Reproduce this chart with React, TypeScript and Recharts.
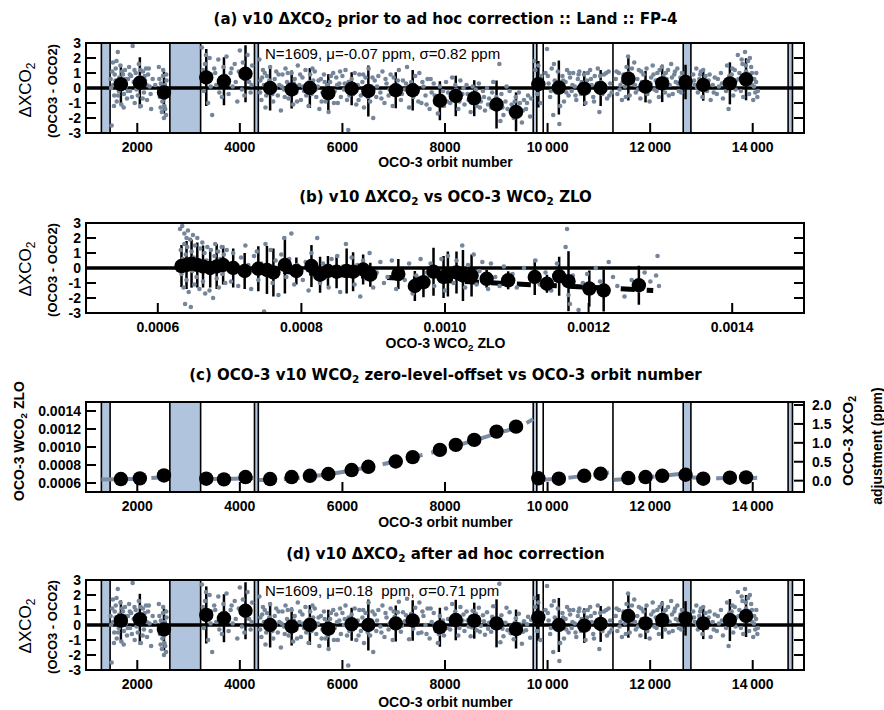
import React from "react";
import {
  ComposedChart,
  Scatter,
  Line,
  XAxis,
  YAxis,
  ReferenceArea,
  ReferenceLine,
  ErrorBar,
} from "recharts";

// ---- axis ticks ----
const orbitTicks = [2000, 4000, 6000, 8000, 10000, 12000, 14000];
const deltaTicks = [-3, -2, -1, 0, 1, 2, 3];
const zloTicks = [0.0006, 0.0008, 0.001, 0.0012, 0.0014];
const adjTicks = [0, 0.5, 1, 1.5, 2];

// ---- instrument gaps (orbit ranges) and extra markers ----
const gapBands = [
  [1300, 1470],
  [2635, 3235],
  [4285, 4360],
  [9720, 9790],
  [12645, 12795],
  [14690, 14775],
];
const extraLines = [9915, 11275];

// ---- binned means: [orbit, dXCO2, 1-sigma] ----
const meansA = [
  [1680, 0.25, 1.35], [2050, 0.35, 1.7], [2520, -0.3, 1.4], [3345, 0.7, 1.9],
  [3690, 0.45, 1.6], [4110, 0.95, 1.9], [4590, 0.0, 1.5], [5010, -0.1, 1.27],
  [5365, 0.0, 1.33], [5725, -0.35, 1.27], [6180, -0.05, 1.1], [6505, -0.2, 1.7],
  [7040, -0.15, 1.2], [7370, -0.15, 1.35], [7900, -0.85, 1.3], [8210, -0.53, 1.35],
  [8570, -0.68, 1.2], [9005, -1.1, 1.6], [9385, -1.59, 1.3], [9820, 0.25, 1.55],
  [10220, 0.03, 1.8], [10715, -0.04, 1.15], [11035, 0.0, 1.2], [11575, 0.62, 1.45],
  [11910, 0.09, 1.05], [12235, 0.31, 1.25], [12690, 0.4, 1.15], [13035, 0.2, 1.05],
  [13555, 0.31, 1.4], [13870, 0.58, 1.4],
];
const meansD = [
  [1680, 0.29, 1.35], [2050, 0.38, 1.7], [2520, -0.29, 1.4], [3345, 0.67, 1.9],
  [3690, 0.45, 1.6], [4110, 0.95, 1.9], [4590, 0.0, 1.5], [5010, -0.1, 1.27],
  [5365, 0.0, 1.33], [5725, -0.25, 1.27], [6180, 0.05, 1.1], [6505, 0.0, 1.7],
  [7040, 0.1, 1.2], [7370, 0.3, 1.35], [7900, -0.15, 1.3], [8210, 0.33, 1.35],
  [8570, 0.29, 1.2], [9005, 0.11, 1.6], [9385, -0.27, 1.3], [9820, 0.51, 1.55],
  [10220, 0.0, 1.8], [10715, -0.04, 1.15], [11035, 0.07, 1.2], [11575, 0.6, 1.45],
  [11910, 0.11, 1.05], [12235, 0.33, 1.25], [12690, 0.44, 1.15], [13035, 0.11, 1.05],
  [13555, 0.33, 1.4], [13870, 0.6, 1.4],
];

// ---- individual soundings: [orbit, dXCO2] ----
const dotsEarly = [
  [1480, 0.6], [1500, -2.5], [1510, 1.1], [1530, 0.2], [1550, -0.5], [1560, 0.9], [1580, 1.3],
  [1600, -0.9], [1610, 0.4], [1620, 2.4], [1640, -0.2], [1650, 0.7], [1670, 1.5], [1690, -1.1],
  [1700, 0.3], [1720, 0.9], [1740, -0.4], [1760, 1.2], [1780, 0.1], [1800, -0.7], [1820, 0.6],
  [1840, 1.4], [1860, -0.2], [1880, 0.8], [1910, 2.8], [1930, 0.4], [1950, -1.0], [1970, 1.0],
  [1990, 0.2], [2010, -0.5], [2030, 1.6], [2050, 0.7], [2070, -1.2], [2090, 0.3], [2110, 1.1],
  [2130, -0.3], [2150, 0.5], [2170, 1.3], [2190, -0.8], [2210, 0.9], [2240, 0.1], [2270, -1.4],
  [2300, 0.6], [2350, 0.2], [2420, 1.4], [2440, -0.6], [2460, 0.3], [2480, -1.6], [2490, -0.9],
  [2500, 0.8], [2510, -0.3], [2520, -2.0], [2530, -1.2], [2540, 0.2], [2550, -0.5], [2560, -1.8],
  [2570, 0.5],
  [1490, 0.0], [1525, 1.7], [1545, -1.2], [1575, 0.5], [1595, 1.8], [1625, -0.5], [1665, 0.1],
  [1705, 1.1], [1735, -1.3], [1775, 0.6], [1815, -0.2], [1855, 0.9], [1895, -0.6], [1945, 1.2],
  [1985, -0.1], [2025, 0.4], [2065, 1.2], [2105, -0.7], [2145, 0.8], [2185, 0.2], [2225, 1.3],
  [2260, -0.4], [2430, 0.6], [2455, -1.3], [2475, 0.1], [2505, 1.2], [2525, -0.7], [2545, -1.4],
  [2565, 0.9],
  [3260, 2.7], [3280, 1.2], [3300, -0.2], [3320, 1.6], [3350, 0.4], [3380, -1.0], [3410, 2.0],
  [3440, 0.9], [3460, -1.8], [3500, 1.3], [3540, 0.2], [3580, 1.9], [3620, 0.6], [3650, -0.6],
  [3680, 1.4], [3700, 0.3], [3740, 2.1], [3780, -0.4], [3820, 1.0], [3860, 0.1], [3900, 1.6],
  [3950, -0.9], [4000, 2.5], [4030, 0.8], [4060, 1.7], [4090, -0.5], [4120, 1.2], [4150, 2.2],
  [4180, 0.4], [4210, -0.3], [4240, 1.5],
  [3290, 0.5], [3340, 2.2], [3430, 0.1], [3520, 1.0], [3600, -0.3], [3720, 0.8], [3840, 1.3],
  [3920, 0.4], [3980, 1.1], [4040, -0.1], [4100, 0.6], [4160, 1.0], [4230, 0.2],
];
const dotsMidEarly = [
  [4380, 1.9], [4400, 0.5], [4420, -0.8], [4450, 1.2], [4470, 0.2], [4500, -1.3], [4530, 0.8],
  [4560, -0.2], [4590, 1.4], [4620, 0.3], [4650, -0.9], [4680, 0.6], [4710, 1.1], [4740, -0.5],
  [4770, 0.2], [4800, -1.5], [4830, 0.9], [4860, -0.1], [4890, 1.3], [4920, 0.4], [4950, -0.7],
  [4980, 0.1], [5010, 1.0], [5040, -1.1], [5070, 0.6], [5100, -0.3], [5130, 1.5], [5160, 0.2],
  [5190, -0.8], [5220, 0.7], [5250, -0.2], [5280, 1.2], [5310, 0.3], [5340, -1.2], [5370, 0.9],
  [5400, -0.4], [5430, 0.5], [5460, 1.1], [5490, -0.6], [5520, 0.1], [5550, -1.4], [5580, 0.6],
  [5610, -0.3], [5640, 0.9], [5670, -0.9], [5700, 0.2], [5730, -1.6], [5760, 0.4], [5790, -0.5],
  [5820, 1.0], [5850, -0.2], [5880, 0.7], [5910, -1.0], [5940, 0.3], [5970, -0.6], [6000, 0.8],
  [4395, -0.3], [4435, 0.7], [4485, 1.0], [4515, -0.5], [4575, 0.5], [4635, -0.4], [4695, 0.0],
  [4755, 0.9], [4815, 0.1], [4875, -0.6], [4935, 1.0], [4995, -0.4], [5055, 0.3], [5115, -0.9],
  [5175, 0.9], [5235, 0.1], [5295, -0.5], [5355, 0.4], [5415, 1.3], [5475, -0.1], [5535, 0.5],
  [5595, -0.9], [5655, 0.4], [5715, -0.7], [5775, 0.8], [5835, -1.0], [5895, 0.2], [5955, 1.1],
];
const dotsMidA = [
  [6030, -0.1], [6060, 1.2], [6090, -0.8], [6114, -2.8], [6120, 0.4], [6180, 0.6], [6210, -0.4],
  [6240, 1.0], [6270, -1.1], [6300, 0.2], [6330, 0.9], [6360, -0.5], [6390, 0.4], [6420, -1.3],
  [6450, 0.7], [6480, -0.2], [6510, 1.3], [6540, -0.9], [6570, 0.1], [6600, -2.0], [6630, 0.5],
  [6660, -0.6], [6700, 0.8], [6740, -0.3], [6780, 1.1], [6820, -1.0], [6860, 0.3], [6900, -0.5],
  [6940, 0.9], [6980, -1.2], [7020, 0.2], [7060, -0.4], [7100, 1.2], [7140, -0.8], [7180, 0.5],
  [7220, -0.1], [7260, 1.4], [7300, -1.3], [7340, 0.4], [7380, -0.6], [7420, 0.8], [7460, -0.2],
  [7500, 1.0], [7540, -1.0], [7580, 0.1], [7620, -0.5], [7660, 0.6], [7700, -1.4], [7740, -0.3],
  [7780, 0.3], [7820, -0.9], [7860, -1.7], [7900, 0.1], [7940, -0.6], [7980, -1.2], [8020, 0.4],
  [8060, -0.3], [8100, -1.0], [8140, 0.7], [8180, -0.7], [8220, -0.1], [8260, -1.4], [8300, 0.5],
  [8340, -0.4], [8380, -1.1], [8420, 0.2], [8460, -0.8], [8500, -1.6], [8540, 0.1], [8580, -0.5],
  [8620, -1.2], [8660, 0.3], [8700, -0.9], [8740, -0.2], [8780, -1.5], [8820, 0.0], [8860, -0.7],
  [8900, -1.3], [8940, 0.4], [8980, -1.0], [9060, 1.6], [9080, -2.2], [9100, -0.4], [9140, -1.8],
  [9180, -0.9], [9220, -1.4], [9260, -0.2], [9300, -1.1], [9340, -2.0], [9380, -0.6], [9420, -1.6],
  [9460, -1.0], [9500, -2.3], [9540, -0.8], [9580, -1.4], [9620, -0.5], [9660, -1.9],
  [6045, 0.3], [6135, -0.5], [6225, 0.2], [6315, -0.8], [6405, 0.9], [6495, -0.6], [6585, 0.7],
  [6675, 0.1], [6760, -0.7], [6840, 0.6], [6920, -0.1], [7000, 0.7], [7080, 0.5], [7160, -0.4],
  [7240, 0.3], [7320, -0.2], [7400, 0.2], [7480, -0.9], [7560, 0.4], [7640, -1.1], [7720, 0.6],
  [7800, -0.5], [7880, -1.1], [7960, -0.2], [8040, -0.9], [8120, -0.4], [8200, 0.2], [8280, -0.9],
  [8360, 0.0], [8440, -0.4], [8520, -1.0], [8600, -0.1], [8680, -1.3], [8760, -0.6], [8840, -1.1],
  [8920, -0.3], [9000, -0.6], [9120, -1.3], [9200, 0.1], [9280, -1.6], [9360, -0.9], [9440, -0.3],
  [9520, -1.5], [9600, -1.0], [9680, -0.7],
];
const dotsMidD = [
  [6030, 0.0], [6060, 1.3], [6090, -0.7], [6114, -2.7], [6120, 0.5], [6180, 0.7], [6210, -0.3],
  [6240, 1.1], [6270, -1.0], [6300, 0.3], [6330, 1.0], [6360, -0.4], [6390, 0.5], [6420, -1.2],
  [6450, 0.8], [6480, -0.1], [6510, 1.5], [6540, -0.7], [6570, 0.3], [6600, -1.8], [6630, 0.7],
  [6660, -0.4], [6700, 1.0], [6740, -0.1], [6780, 1.3], [6820, -0.8], [6860, 0.5], [6900, -0.3],
  [6940, 1.1], [6980, -1.0], [7020, 0.55], [7060, -0.05], [7100, 1.55], [7140, -0.45], [7180, 0.85],
  [7220, 0.25], [7260, 1.75], [7300, -0.95], [7340, 0.75], [7380, -0.25], [7420, 1.15], [7460, 0.15],
  [7500, 1.5], [7540, -0.5], [7580, 0.6], [7620, 0.0], [7660, 1.1], [7700, -0.9], [7740, 0.2],
  [7780, 0.8], [7820, -0.4], [7860, -1.2], [7900, 0.6], [7940, -0.1], [7980, -0.7], [8020, 1.1],
  [8060, 0.4], [8100, -0.3], [8140, 1.4], [8180, 0.0], [8220, 0.6], [8260, -0.7], [8300, 1.2],
  [8340, 0.3], [8380, -0.4], [8420, 0.9], [8460, -0.1], [8500, -0.75], [8540, 0.95], [8580, 0.35],
  [8620, -0.35], [8660, 1.15], [8700, -0.05], [8740, 0.65], [8780, -0.65], [8820, 0.85], [8860, 0.15],
  [8900, -0.45], [8940, 1.25], [8980, -0.15], [9060, 2.75], [9080, -1.15], [9100, 0.65], [9140, -0.75],
  [9180, 0.15], [9220, -0.35], [9260, 0.85], [9300, -0.05], [9340, -0.95], [9380, 0.45], [9420, -0.55],
  [9460, 0.05], [9500, -1.25], [9540, 0.25], [9580, -0.35], [9620, 0.55], [9660, -0.85],
  [6045, 0.4], [6135, -0.4], [6225, 0.3], [6315, -0.7], [6405, 1.0], [6495, -0.5], [6585, 0.9],
  [6675, 0.3], [6760, -0.5], [6840, 0.8], [6920, 0.1], [7000, 0.9], [7080, 0.85], [7160, -0.05],
  [7240, 0.65], [7320, 0.15], [7400, 0.55], [7480, -0.55], [7560, 0.9], [7640, -0.6], [7720, 1.1],
  [7800, 0.0], [7880, -0.6], [7960, 0.3], [8040, -0.2], [8120, 0.3], [8200, 0.9], [8280, -0.2],
  [8360, 0.7], [8440, 0.3], [8520, -0.15], [8600, 0.75], [8680, -0.45], [8760, 0.25], [8840, -0.25],
  [8920, 0.55], [9000, 0.25], [9120, -0.25], [9200, 1.15], [9280, -0.55], [9360, 0.15], [9440, 0.75],
  [9520, -0.45], [9600, 0.05], [9680, 0.35],
];
const dotsLate = [
  [9740, 1.8], [9760, 1.2], [9780, 0.5], [9800, -0.4], [9820, 1.5], [9840, 0.2], [9860, -1.0],
  [9880, 0.8], [9960, 1.0], [9990, 2.6], [10020, 0.3], [10050, -0.6], [10080, 1.3], [10110, -1.8],
  [10140, 0.5], [10170, -0.3], [10200, 1.1], [10230, -2.4], [10260, 0.2], [10290, 0.8], [10320, -0.9],
  [10350, 0.4], [10380, 1.2], [10410, -0.5], [10440, 0.7], [10470, -0.2], [10500, 1.0], [10530, 0.1],
  [10560, -0.8], [10590, 0.6], [10620, 1.1], [10650, -0.4], [10680, 0.3], [10710, 0.9], [10740, -1.0],
  [10770, 0.5], [10800, -0.2], [10830, 1.2], [10860, 0.2], [10890, -0.6], [10920, 0.8], [10950, -0.1],
  [10980, 1.3], [11010, -1.6], [11040, 0.4], [11070, -0.4], [11100, 0.9], [11130, 0.0], [11160, -0.7],
  [11190, 1.1], [11220, 0.3], [11250, -0.3],
  [10005, 0.8], [10065, -0.2], [10125, 1.6], [10185, 0.1], [10245, -1.2], [10305, 0.5], [10365, -0.3],
  [10425, 1.0], [10485, 0.2], [10545, -0.5], [10605, 0.9], [10665, 0.4], [10725, -0.3], [10785, 1.0],
  [10845, 0.6], [10905, -0.9], [10965, 0.3], [11025, 0.8], [11085, -0.1], [11145, 1.0], [11205, -0.5],
  [11330, 0.6], [11360, -0.4], [11390, 1.0], [11420, 0.2], [11450, -0.8], [11480, 0.9], [11510, 0.1],
  [11540, 1.4], [11570, 2.1], [11600, -0.5], [11630, 0.8], [11660, 0.3], [11690, 1.7], [11720, -0.3],
  [11750, 0.6], [11780, 1.2], [11810, -0.7], [11840, 0.4], [11870, 0.9], [11900, -0.2], [11930, 1.3],
  [11960, 0.1], [11990, -0.9], [12020, 0.7], [12050, 1.5], [12080, -0.1], [12110, 0.5], [12140, 1.0],
  [12170, -0.6], [12200, 0.3], [12230, 1.4], [12260, 0.8], [12290, -0.3], [12320, 0.6], [12350, 1.2],
  [12380, 0.2], [12410, 1.6], [12440, -0.4], [12470, 0.9], [12500, 0.4], [12530, 1.3], [12560, -0.2],
  [12590, 0.7], [12620, 1.0],
  [11345, 1.1], [11405, -0.1], [11465, 0.4], [11525, -0.6], [11585, 1.0], [11645, 1.3], [11705, 0.2],
  [11765, -0.1], [11825, 1.1], [11885, 0.4], [11945, -0.4], [12005, 0.3], [12065, 0.9], [12125, -0.2],
  [12185, 1.2], [12245, 0.1], [12305, 1.0], [12365, -0.5], [12425, 0.7], [12485, 1.1], [12545, 0.3],
  [12605, -0.3],
  [12840, 0.9], [12870, 0.2], [12900, 1.3], [12930, -0.3], [12960, 0.6], [12990, 1.1], [13020, -0.6],
  [13050, 0.4], [13080, 0.8], [13110, -0.2], [13140, 0.5], [13180, -0.8], [13220, 0.2], [13260, 0.7],
  [13300, -0.4], [13340, 0.1], [13380, 1.0], [13420, -0.7], [13460, 0.4], [13500, 1.5], [13530, -1.4],
  [13560, 0.3], [13590, 0.9], [13620, -0.5], [13650, 1.2], [13680, 0.5], [13710, 2.2], [13740, 1.0],
  [13770, -0.2], [13800, 1.6], [13830, 0.7], [13850, 2.4], [13870, 1.1], [13890, 0.3], [13910, 1.8],
  [13930, -0.4], [13950, 0.9], [13970, 1.4], [13990, 0.2], [14010, -0.8], [14030, 0.6], [14050, -0.3],
  [14070, 1.0], [14090, -0.6],
  [12855, 0.5], [12915, 0.0], [12975, 0.9], [13035, 1.2], [13095, 0.3], [13160, 0.9], [13240, -0.3],
  [13320, 0.6], [13400, 0.3], [13480, -0.2], [13545, 0.8], [13605, 1.3], [13665, -0.1], [13725, 0.6],
  [13785, 1.9], [13815, -0.6], [13865, 1.5], [13905, 0.6], [13945, 2.0], [13985, 1.0], [14025, 0.1],
  [14065, 0.4], [14100, -0.2],
];

// ---- panel (b): [ZLO, dXCO2, 1-sigma] ----
const meansB = [
  [0.000633, 0.13, 1.4], [0.00064, 0.2, 1.6], [0.000647, 0.29, 1.6], [0.000655, 0.2, 1.5],
  [0.000663, 0.1, 1.4], [0.000673, 0.0, 1.3], [0.000682, 0.1, 1.5], [0.000691, 0.2, 1.3],
  [0.000705, 0.0, 1.3], [0.000721, -0.2, 1.2], [0.00074, -0.05, 1.5], [0.000752, -0.13, 1.6],
  [0.000761, -0.3, 1.6], [0.000777, 0.2, 1.9], [0.000793, -0.2, 0.9], [0.000814, 0.13, 1.4],
  [0.000826, -0.45, 1.2], [0.000837, -0.2, 1.0], [0.000849, -0.25, 1.1], [0.000863, -0.2, 1.5],
  [0.000872, -0.25, 1.3], [0.000886, -0.1, 1.0], [0.000896, -0.45, 0.8], [0.000935, -0.4, 1.0],
  [0.000958, -1.2, 1.0], [0.00097, -0.95, 1.0], [0.000984, -0.25, 1.6], [0.000998, -0.6, 1.4],
  [0.001004, -0.4, 1.5], [0.001016, -0.3, 1.4], [0.001025, -0.5, 1.7], [0.001037, -0.5, 1.4],
  [0.001058, -0.72, 0.6], [0.001088, -0.82, 0.6], [0.001125, -0.6, 1.2], [0.001142, -1.05, 0.6],
  [0.001159, -0.55, 1.3], [0.001172, -0.88, 2.0], [0.001201, -1.37, 1.2], [0.001221, -1.5, 1.4],
  [0.00127, -1.15, 1.3],
];
const fitB = [
  [0.00063, 0.12], [0.0007, -0.05], [0.0008, -0.3], [0.0009, -0.58], [0.001, -0.84],
  [0.0011, -1.07], [0.0012, -1.28], [0.00129, -1.5],
];
const dotsB = [
  [0.000631, 2.6], [0.000632, 1.2], [0.000633, -0.4], [0.000634, 2.8], [0.000635, 0.6], [0.000636, -1.3],
  [0.000637, 2.3], [0.000637, 1.6], [0.000638, -2.4], [0.000639, 0.9], [0.00064, 2.0], [0.00064, -0.8],
  [0.000641, 1.4], [0.000642, 2.5], [0.000643, -1.6], [0.000644, 0.3], [0.000645, 1.9], [0.000646, -2.6],
  [0.000647, 1.1], [0.000648, -0.2], [0.000649, 2.2], [0.00065, 0.7], [0.000651, -1.1], [0.000652, 1.5],
  [0.000654, -0.6], [0.000655, 2.0], [0.000656, 0.4], [0.000658, -1.4], [0.000659, 1.3], [0.00066, 0.0],
  [0.000662, 1.7], [0.000663, -0.9], [0.000665, 1.0], [0.000666, -1.7], [0.000668, 0.5], [0.000669, 1.4],
  [0.000671, -0.3], [0.000672, -1.5], [0.000674, 1.2], [0.000675, 0.2], [0.000677, -2.0], [0.000679, 0.8],
  [0.00068, 1.6], [0.000682, -0.7], [0.000684, 1.1], [0.000685, -1.3], [0.000687, 0.6], [0.000689, 1.4],
  [0.00069, -0.4], [0.000692, 0.9], [0.000694, -1.0], [0.000696, 1.2], [0.000698, 0.1], [0.000702, -0.9],
  [0.000705, 1.0], [0.000708, 0.3], [0.000712, -1.2], [0.000716, 0.7], [0.00072, -0.5], [0.000722, 1.5],
  [0.000726, 0.2], [0.00073, -1.4], [0.000734, 0.8], [0.000738, 1.1], [0.00074, -0.8], [0.000744, 0.3],
  [0.000748, -2.9], [0.00075, 1.6], [0.000753, -0.2], [0.000757, 1.2], [0.00076, -1.0], [0.000764, 0.5],
  [0.000768, -1.8], [0.000772, 0.9], [0.000776, 2.0], [0.000779, -0.6], [0.000783, 0.6], [0.000786, 2.3],
  [0.00079, -1.1], [0.000794, 0.2], [0.000798, -0.4], [0.000802, -0.8], [0.000806, 0.4], [0.00081, -1.5],
  [0.000814, 1.0], [0.000818, -0.2], [0.000822, 2.0], [0.000826, -1.0], [0.00083, 0.3], [0.000834, -0.6],
  [0.000838, -1.3], [0.000842, 0.6], [0.000846, -0.3], [0.00085, 0.8], [0.000854, -1.6], [0.000858, 0.1],
  [0.000862, 1.6], [0.000866, -0.5], [0.00087, 0.7], [0.000874, -1.1], [0.000878, 0.2], [0.000882, -1.9],
  [0.000886, 0.5], [0.00089, -0.7], [0.000895, 1.0], [0.0009, -1.3], [0.000905, -0.3], [0.00091, 0.4],
  [0.000915, -1.0], [0.00092, -0.6], [0.000926, 0.5], [0.000932, -1.4], [0.000938, -0.2], [0.000944, -0.8],
  [0.00095, 0.3], [0.000955, -1.7], [0.00096, -0.5], [0.000966, 0.6], [0.00097, -1.1], [0.000975, -0.3],
  [0.00098, 0.3], [0.000985, -1.2], [0.00099, -0.6], [0.000995, 0.6], [0.001, -1.5], [0.001004, 0.8],
  [0.001008, -0.2], [0.001012, -1.0], [0.001016, 0.5], [0.00102, -0.7], [0.001024, 1.5], [0.001028, -1.3],
  [0.001032, 0.2], [0.001036, -0.5], [0.00104, 0.9], [0.001044, -1.1], [0.001048, -0.2], [0.001052, 0.4],
  [0.001056, -0.8], [0.00106, -1.4], [0.001064, 0.3], [0.00107, -0.6], [0.001076, -1.2], [0.001082, 0.1],
  [0.001088, -0.9], [0.001094, -0.4], [0.0011, -1.3], [0.00111, 0.0], [0.00112, -0.7], [0.001126, 0.5],
  [0.001132, -1.1], [0.00114, -0.3], [0.001148, -1.5], [0.001156, 0.3], [0.001162, -0.8], [0.001168, 1.4],
  [0.00117, 2.6], [0.001172, -1.8], [0.001174, -2.4], [0.001178, -0.5], [0.001186, -2.8], [0.001192, -1.0],
  [0.001198, -0.4], [0.001204, -1.3], [0.00121, 0.0], [0.001216, -0.9], [0.001222, -1.6], [0.001228, 0.4],
  [0.001234, -0.6], [0.00124, -1.2], [0.00125, -1.9], [0.00126, -0.8], [0.00127, -1.5], [0.001278, -0.3],
  [0.001286, -0.9], [0.001294, -0.5], [0.001296, 0.8], [0.001298, -1.2],
];

// ---- panel (c): [orbit, ZLO] ----
const zloMeans = [
  [1680, 0.000644], [2050, 0.000651], [2520, 0.000684], [3345, 0.000648], [3690, 0.00064],
  [4110, 0.000666], [4590, 0.000644], [5010, 0.000666], [5365, 0.00068], [5725, 0.0007],
  [6180, 0.000744], [6505, 0.00078], [7040, 0.000839], [7370, 0.000888], [7900, 0.000968],
  [8210, 0.001024], [8570, 0.001079], [9005, 0.001171], [9385, 0.001226], [9820, 0.000652],
  [10220, 0.000648], [10715, 0.00068], [11035, 0.000703], [11575, 0.000655], [11910, 0.000666],
  [12235, 0.00068], [12690, 0.000692], [13035, 0.000648], [13555, 0.000659], [13870, 0.000662],
];
const zloFit = [
  [1300, 0.000638], [1700, 0.000643], [2100, 0.00065], [2600, 0.000668], [2900, null],
  [3240, 0.000648], [3700, 0.000645], [4280, 0.000655], [4320, null],
  [4370, 0.000632], [5000, 0.000648], [5500, 0.00068], [6000, 0.000722], [6500, 0.000776],
  [7000, 0.000836], [7500, 0.000903], [8000, 0.000978], [8500, 0.001062], [9000, 0.00115],
  [9500, 0.00124], [9720, 0.00131], [9800, null],
  [9920, 0.000636], [10400, 0.000658], [10900, 0.000693], [11270, 0.000722], [11280, null],
  [11290, 0.000634], [11800, 0.000656], [12300, 0.000684], [12640, 0.000704], [12700, null],
  [12800, 0.00066], [13300, 0.000654], [13800, 0.000655], [14150, 0.000658],
];

const FONT = "'Liberation Sans', Arial, sans-serif";
const TITLE_FONT = "'DejaVu Sans', sans-serif";
const DOT = "#75869b";
const BAND = "#b0c4de";
const FIT = "#7c8ca2";

const tickStyle = { fontFamily: FONT, fontSize: 14, fontWeight: 700, fill: "#000" };
const tickLine = { stroke: "#000", strokeWidth: 2 };

const fmtOrbit = (v: number) =>
  v >= 10000 ? `${String(v).slice(0, 2)}\u2009${String(v).slice(2)}` : String(v);

const toXY = (rows: any[][]) => rows.map(([x, y, err]) => ({ x, y, err }));

const smallDot = (p: any) => <circle cx={p.cx} cy={p.cy} r={2.3} fill={DOT} />;
const bigDot = (p: any) => <circle cx={p.cx} cy={p.cy} r={7.2} fill="#000" />;

function Sub({ children }: any) {
  return (
    <span style={{ fontSize: "0.7em", position: "relative", top: "0.32em" }}>{children}</span>
  );
}

function Title({ top, children }: any) {
  return (
    <div
      style={{
        position: "absolute", left: 0, width: 891, top, textAlign: "center",
        fontFamily: TITLE_FONT, fontWeight: 700, fontSize: 15, lineHeight: "18px",
        whiteSpace: "nowrap",
      }}
    >
      {children}
    </div>
  );
}

function XLabel({ top, children }: any) {
  return (
    <div
      style={{
        position: "absolute", left: 0, width: 891, top, textAlign: "center",
        fontFamily: FONT, fontWeight: 700, fontSize: 14, lineHeight: "16px", whiteSpace: "nowrap",
      }}
    >
      {children}
    </div>
  );
}

function VLabel({ cx, cy, size, bold, children }: any) {
  return (
    <div
      style={{
        position: "absolute", left: cx, top: cy, whiteSpace: "nowrap",
        transform: "translate(-50%, -50%) rotate(-90deg)",
        fontFamily: FONT, fontSize: size, fontWeight: bold ? 700 : 400, lineHeight: 1,
      }}
    >
      {children}
    </div>
  );
}

function Note({ top, children }: any) {
  return (
    <div
      style={{
        position: "absolute", left: 265, top, fontFamily: FONT, fontSize: 15,
        lineHeight: "17px", whiteSpace: "pre",
      }}
    >
      {children}
    </div>
  );
}

function Frame({ top }: { top: number }) {
  return (
    <div
      style={{
        position: "absolute", left: 85, top: top - 1, width: 720, height: 92,
        border: "2px solid #000", boxSizing: "border-box", pointerEvents: "none",
      }}
    />
  );
}

function gapMarks() {
  return [
    ...gapBands.map(([a, b]) => (
      <ReferenceArea key={`band${a}`} x1={a} x2={b} fill={BAND} fillOpacity={1} stroke="none" />
    )),
    ...gapBands.flat().concat(extraLines).map((v) => (
      <ReferenceLine key={`line${v}`} x={v} stroke="#000" strokeWidth={1.6} />
    )),
  ];
}

function DeltaOrbitPanel({ top, plotTop, dots, means }: any) {
  return (
    <div style={{ position: "absolute", left: 0, top }}>
      <ComposedChart
        width={884}
        height={170}
        margin={{ top: plotTop - top, right: 70, bottom: 170 - (plotTop - top) - 90 - 30, left: 46 }}
      >
        <XAxis
          type="number" dataKey="x" domain={[1000, 15000]} ticks={orbitTicks} interval={0}
          allowDataOverflow axisLine={false} tickLine={tickLine} tickSize={-10} tickMargin={19}
          tick={tickStyle} tickFormatter={fmtOrbit} height={30}
        />
        <YAxis
          type="number" dataKey="y" domain={[-3, 3]} ticks={deltaTicks} interval={0}
          allowDataOverflow axisLine={false} tickLine={tickLine} tickSize={-10} tickMargin={15}
          tick={tickStyle} width={40}
        />
        <YAxis
          yAxisId="r" orientation="right" type="number" domain={[-3, 3]} ticks={deltaTicks}
          interval={0} allowDataOverflow axisLine={false} tickLine={tickLine} tickSize={-10}
          tickFormatter={() => ""} width={10}
        />
        {gapMarks()}
        <Scatter data={toXY(dots)} shape={smallDot} isAnimationActive={false} />
        <ReferenceLine y={0} stroke="#000" strokeWidth={3.5} />
        <Scatter data={toXY(means)} shape={bigDot} isAnimationActive={false}>
          <ErrorBar dataKey="err" direction="y" width={0} stroke="#000" strokeWidth={2.5} isAnimationActive={false} />
        </Scatter>
      </ComposedChart>
    </div>
  );
}

function DeltaZloPanel() {
  return (
    <div style={{ position: "absolute", left: 0, top: 180 }}>
      <ComposedChart width={884} height={170} margin={{ top: 43, right: 70, bottom: 7, left: 46 }}>
        <XAxis
          type="number" dataKey="x" domain={[0.0005, 0.0015]} ticks={zloTicks} interval={0}
          allowDataOverflow axisLine={false} tickLine={tickLine} tickSize={-10} tickMargin={19}
          tick={tickStyle} tickFormatter={(v: number) => v.toFixed(4)} height={30}
        />
        <YAxis
          type="number" dataKey="y" domain={[-3, 3]} ticks={deltaTicks} interval={0}
          allowDataOverflow axisLine={false} tickLine={tickLine} tickSize={-10} tickMargin={15}
          tick={tickStyle} width={40}
        />
        <YAxis
          yAxisId="r" orientation="right" type="number" domain={[-3, 3]} ticks={deltaTicks}
          interval={0} allowDataOverflow axisLine={false} tickLine={tickLine} tickSize={-10}
          tickFormatter={() => ""} width={10}
        />
        <Scatter data={toXY(dotsB)} shape={smallDot} isAnimationActive={false} />
        <ReferenceLine y={0} stroke="#000" strokeWidth={3.5} />
        <Line
          data={toXY(fitB)} dataKey="y" type="linear" stroke="#000" strokeWidth={5}
          strokeDasharray="14 12" dot={false} isAnimationActive={false}
        />
        <Scatter data={toXY(meansB)} shape={bigDot} isAnimationActive={false}>
          <ErrorBar dataKey="err" direction="y" width={0} stroke="#000" strokeWidth={2.5} isAnimationActive={false} />
        </Scatter>
      </ComposedChart>
    </div>
  );
}

function ZloOrbitPanel() {
  return (
    <div style={{ position: "absolute", left: 0, top: 360 }}>
      <ComposedChart width={884} height={170} margin={{ top: 42, right: 70, bottom: 8, left: 46 }}>
        <XAxis
          type="number" dataKey="x" domain={[1000, 15000]} ticks={orbitTicks} interval={0}
          allowDataOverflow axisLine={false} tickLine={tickLine} tickSize={-10} tickMargin={19}
          tick={tickStyle} tickFormatter={fmtOrbit} height={30}
        />
        <YAxis
          type="number" dataKey="y" domain={[0.0005, 0.0015]} ticks={zloTicks} interval={0}
          allowDataOverflow axisLine={false} tickLine={tickLine} tickSize={-10} tickMargin={15}
          tick={tickStyle} tickFormatter={(v: number) => v.toFixed(4)} width={40}
        />
        <YAxis
          yAxisId="r" orientation="right" type="number" domain={[-0.3, 2.08]} ticks={adjTicks}
          interval={0} allowDataOverflow axisLine={false} tickLine={tickLine} tickSize={-10}
          tickMargin={18} tick={{ ...tickStyle, textAnchor: "start" }}
          tickFormatter={(v: number) => v.toFixed(1)} width={10}
        />
        {gapMarks()}
        <Line
          data={toXY(zloFit)} dataKey="y" type="monotone" stroke={FIT} strokeWidth={4}
          strokeDasharray="16 9" dot={false} connectNulls={false} isAnimationActive={false}
        />
        <Scatter data={toXY(zloMeans)} shape={bigDot} isAnimationActive={false} />
      </ComposedChart>
    </div>
  );
}

export default function App() {
  return (
    <div
      style={{
        position: "absolute", left: 0, top: 0, width: 884, height: 710,
        background: "#fff", overflow: "hidden",
      }}
    >
      <DeltaOrbitPanel top={0} plotTop={43} dots={[...dotsEarly, ...dotsMidEarly, ...dotsMidA, ...dotsLate]} means={meansA} />
      <DeltaZloPanel />
      <ZloOrbitPanel />
      <DeltaOrbitPanel top={540} plotTop={580} dots={[...dotsEarly, ...dotsMidEarly, ...dotsMidD, ...dotsLate]} means={meansD} />

      <Frame top={43} />
      <Frame top={223} />
      <Frame top={402} />
      <Frame top={580} />

      <Title top={10}>(a) v10 ΔXCO<Sub>2</Sub> prior to ad hoc correction :: Land :: FP-4</Title>
      <Title top={188}>(b) v10 ΔXCO<Sub>2</Sub> vs OCO-3 WCO<Sub>2</Sub> ZLO</Title>
      <Title top={366}>(c) OCO-3 v10 WCO<Sub>2</Sub> zero-level-offset vs OCO-3 orbit number</Title>
      <Title top={545}>(d) v10 ΔXCO<Sub>2</Sub> after ad hoc correction</Title>

      <XLabel top={154}>OCO-3 orbit number</XLabel>
      <XLabel top={335}>OCO-3 WCO<Sub>2</Sub> ZLO</XLabel>
      <XLabel top={514}>OCO-3 orbit number</XLabel>
      <XLabel top={694}>OCO-3 orbit number</XLabel>

      <VLabel cx={25} cy={90} size={17}>ΔXCO<Sub>2</Sub></VLabel>
      <VLabel cx={52} cy={91} size={13} bold>(OCO3 - OCO2)</VLabel>
      <VLabel cx={25} cy={269} size={17}>ΔXCO<Sub>2</Sub></VLabel>
      <VLabel cx={52} cy={270} size={13} bold>(OCO3 - OCO2)</VLabel>
      <VLabel cx={19} cy={441} size={14} bold>OCO-3 WCO<Sub>2</Sub> ZLO</VLabel>
      <VLabel cx={847} cy={441} size={15} bold>OCO-3 XCO<Sub>2</Sub></VLabel>
      <VLabel cx={877} cy={446} size={14} bold>adjustment (ppm)</VLabel>
      <VLabel cx={25} cy={626} size={17}>ΔXCO<Sub>2</Sub></VLabel>
      <VLabel cx={52} cy={627} size={13} bold>(OCO3 - OCO2)</VLabel>

      <Note top={45}>N=1609, μ=-0.07 ppm, σ=0.82 ppm</Note>
      <Note top={582}>N=1609, μ=0.18  ppm, σ=0.71 ppm</Note>
    </div>
  );
}
